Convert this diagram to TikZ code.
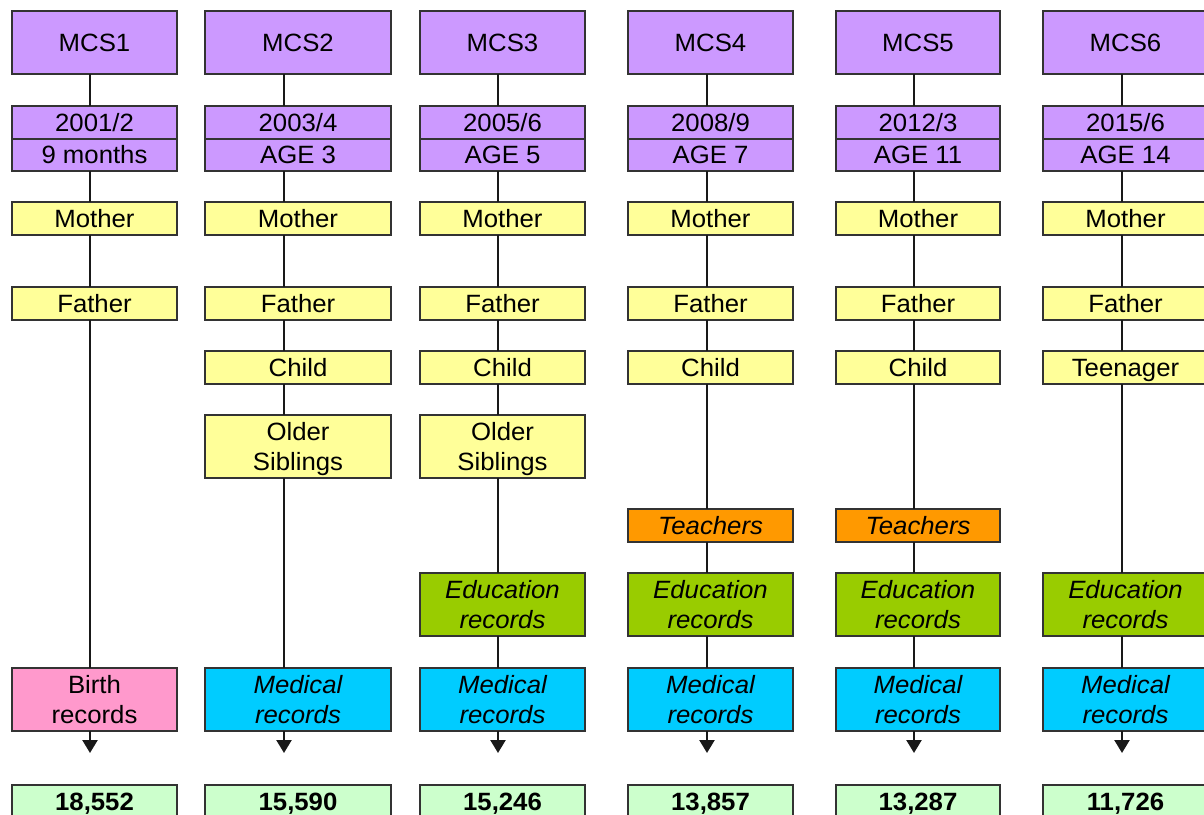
\documentclass[tikz,border=0pt]{standalone}
\usepackage{fontspec}
\setmainfont{Liberation Sans}[FakeStretch=1.03]
\usetikzlibrary{arrows.meta}
\definecolor{wavepurple}{RGB}{204,153,255}
\definecolor{respyellow}{RGB}{255,255,153}
\definecolor{teachorange}{RGB}{255,153,0}
\definecolor{edugreen}{RGB}{153,204,0}
\definecolor{medcyan}{RGB}{0,204,255}
\definecolor{birthpink}{RGB}{255,153,204}
\definecolor{countgreen}{RGB}{204,255,204}

\begin{document}
\begin{tikzpicture}[x=1pt, y=-1pt,
  cbox/.style={draw=black!80, line width=1.3pt, inner sep=0pt, outer sep=0pt,
    align=center, minimum width=165pt, minimum height=33pt,
    text height=18pt, text depth=1pt,
    font=\fontsize{25}{30}\selectfont},
  tall/.style={minimum height=63pt, text height=48pt},
  resp/.style={cbox, fill=respyellow},
  link/.style={line width=2.4pt, black!90}
]
  \useasboundingbox (0,0) rectangle (1204,814);
  \clip (0,0) rectangle (1204,814);

  % rows shared by all sweeps
  \foreach \i/\cx/\w/\lx/\yr/\hf/\age/\num in {
    1/94.5/165/90/2001/2/9 months/{18,552},
    2/298/186/284/2003/4/AGE 3/{15,590},
    3/502.5/165/498/2005/6/AGE 5/{15,246},
    4/710.5/165/707/2008/9/AGE 7/{13,857},
    5/918/164/914/2012/3/AGE 11/{13,287},
    6/1125.5/165/1122/2015/6/AGE 14/{11,726}}
  {
    \coordinate (l\i) at (\lx,0);
    \node[cbox, minimum height=63pt, fill=wavepurple, minimum width=\w pt] (mcs\i) at (\cx,42.5) {MCS\i};
    \node[cbox, fill=wavepurple, minimum width=\w pt] (yr\i) at (\cx,122.5) {\yr/\hf};
    \node[cbox, fill=wavepurple, minimum width=\w pt, minimum height=32pt] (age\i) at (\cx,155) {\age};
    \node[resp, minimum width=\w pt] (mom\i) at (\cx,218.5) {Mother};
    \node[resp, minimum width=\w pt] (dad\i) at (\cx,303.5) {Father};
    \node[cbox, fill=countgreen, minimum width=\w pt, font=\fontsize{25}{30}\selectfont\bfseries] (num\i) at (\cx,801.5) {\num};
    \draw[link] (mcs\i.south -| l\i) -- (yr\i.north -| l\i);
    \draw[link] (age\i.south -| l\i) -- (mom\i.north -| l\i);
    \draw[link] (mom\i.south -| l\i) -- (dad\i.north -| l\i);
  }

  % MCS1
  \node[cbox, tall, fill=birthpink] (rec1) at (94.5,699.5) {Birth\\records};

  % MCS2
  \node[resp, minimum width=186pt] (kid2) at (298,367.5) {Child};
  \node[resp, tall, minimum width=186pt] (old2) at (298,446.5) {Older\\Siblings};
  \node[cbox, tall, fill=medcyan, minimum width=186pt, font=\fontsize{25}{30}\selectfont\itshape] (rec2) at (298,699.5) {Medical\\records};

  % MCS3
  \node[resp] (kid3) at (502.5,367.5) {Child};
  \node[resp, tall] (old3) at (502.5,446.5) {Older\\Siblings};
  \node[cbox, tall, fill=edugreen, font=\fontsize{25}{30}\selectfont\itshape] (edu3) at (502.5,604.5) {Education\\records};
  \node[cbox, tall, fill=medcyan, font=\fontsize{25}{30}\selectfont\itshape] (rec3) at (502.5,699.5) {Medical\\records};

  % MCS4 and MCS5
  \foreach \i/\cx/\w in {4/710.5/165, 5/918/164} {
    \node[resp, minimum width=\w pt] (kid\i) at (\cx,367.5) {Child};
    \node[cbox, fill=teachorange, minimum width=\w pt, font=\fontsize{25}{30}\selectfont\itshape] (tch\i) at (\cx,525.5) {Teachers};
    \node[cbox, tall, fill=edugreen, minimum width=\w pt, font=\fontsize{25}{30}\selectfont\itshape] (edu\i) at (\cx,604.5) {Education\\records};
    \node[cbox, tall, fill=medcyan, minimum width=\w pt, font=\fontsize{25}{30}\selectfont\itshape] (rec\i) at (\cx,699.5) {Medical\\records};
  }

  % MCS6
  \node[resp] (kid6) at (1125.5,367.5) {Teenager};
  \node[cbox, tall, fill=edugreen, font=\fontsize{25}{30}\selectfont\itshape] (edu6) at (1125.5,604.5) {Education\\records};
  \node[cbox, tall, fill=medcyan, font=\fontsize{25}{30}\selectfont\itshape] (rec6) at (1125.5,699.5) {Medical\\records};

  % vertical links below Father
  \foreach \a/\b/\i in {dad1/rec1/1,
      dad2/kid2/2, kid2/old2/2, old2/rec2/2,
      dad3/kid3/3, kid3/old3/3, old3/edu3/3, edu3/rec3/3,
      dad4/kid4/4, kid4/tch4/4, tch4/edu4/4, edu4/rec4/4,
      dad5/kid5/5, kid5/tch5/5, tch5/edu5/5, edu5/rec5/5,
      dad6/kid6/6, kid6/edu6/6, edu6/rec6/6}
    \draw[link] (\a.south -| l\i) -- (\b.north -| l\i);

  % arrows to the counts
  \foreach \i in {1,...,6}
    \draw[link, -{Triangle[width=15pt, length=13pt]}, shorten >=32pt]
      (rec\i.south -| l\i) -- (num\i.north -| l\i);
\end{tikzpicture}
\end{document}
